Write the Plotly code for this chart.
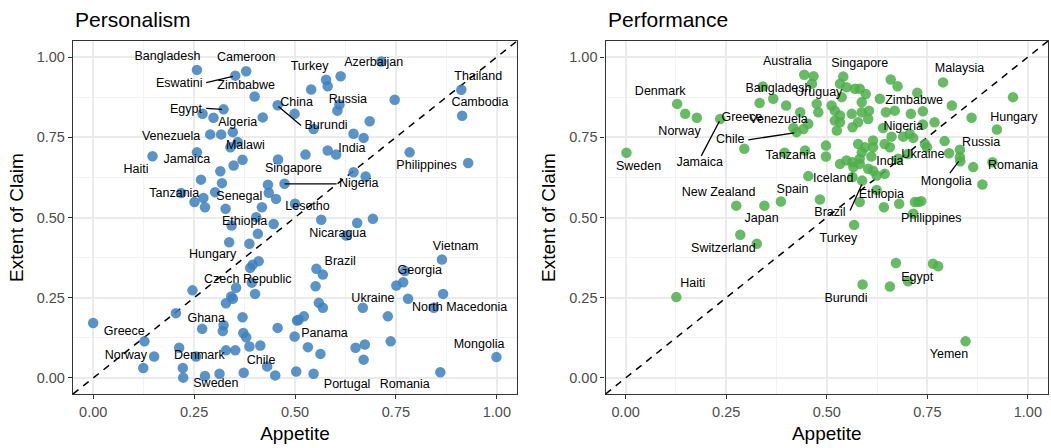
import plotly.graph_objects as go

# ---------------- data: Personalism panel ----------------
pers_x = [0.257, 0.379, 0.352, 0.400, 0.323, 0.271, 0.298, 0.457, 0.420, 0.290,
          0.317, 0.346, 0.358, 0.340, 0.257, 0.147, 0.370, 0.348, 0.458, 0.315,
          0.267, 0.319, 0.433, 0.474, 0.218, 0.251, 0.273, 0.277, 0.302, 0.328,
          0.435, 0.453, 0.418, 0.404, 0.500, 0.714, 0.577, 0.613, 0.581, 0.540,
          0.610, 0.605, 0.747, 0.912, 0.914, 0.499, 0.546, 0.685, 0.645, 0.670,
          0.581, 0.602, 0.526, 0.784, 0.929, 0.645, 0.675, 0.343, 0.447, 0.408,
          0.337, 0.387, 0.410, 0.395, 0.389, 0.393, 0.354, 0.401, 0.342, 0.346,
          0.329, 0.246, 0.205, 0.000, 0.323, 0.321, 0.270, 0.370, 0.457, 0.499,
          0.372, 0.379, 0.505, 0.127, 0.151, 0.124, 0.213, 0.255, 0.222, 0.223,
          0.329, 0.352, 0.387, 0.414, 0.431, 0.451, 0.503, 0.277, 0.313, 0.373,
          0.565, 0.654, 0.693, 0.627, 0.864, 0.553, 0.569, 0.551, 0.772, 0.768,
          0.751, 0.780, 0.867, 0.844, 0.559, 0.569, 0.668, 0.730, 0.522, 0.509,
          0.532, 0.563, 0.650, 0.673, 0.670, 0.737, 0.999, 0.546, 0.860]
pers_y = [0.960, 0.956, 0.942, 0.877, 0.837, 0.823, 0.811, 0.850, 0.812, 0.759,
          0.759, 0.766, 0.735, 0.719, 0.703, 0.691, 0.680, 0.662, 0.681, 0.644,
          0.618, 0.607, 0.602, 0.605, 0.576, 0.548, 0.561, 0.532, 0.579, 0.527,
          0.577, 0.558, 0.532, 0.501, 0.543, 0.986, 0.929, 0.940, 0.909, 0.899,
          0.852, 0.833, 0.867, 0.898, 0.817, 0.823, 0.776, 0.800, 0.761, 0.748,
          0.709, 0.696, 0.696, 0.703, 0.670, 0.641, 0.628, 0.475, 0.480, 0.449,
          0.423, 0.418, 0.364, 0.353, 0.343, 0.297, 0.281, 0.262, 0.254, 0.247,
          0.233, 0.273, 0.202, 0.171, 0.164, 0.146, 0.153, 0.189, 0.156, 0.129,
          0.140, 0.127, 0.179, 0.114, 0.067, 0.031, 0.094, 0.067, 0.031, 0.001,
          0.086, 0.086, 0.098, 0.101, 0.036, 0.008, 0.020, 0.006, 0.013, 0.016,
          0.493, 0.483, 0.496, 0.444, 0.369, 0.340, 0.322, 0.286, 0.333, 0.298,
          0.288, 0.247, 0.262, 0.219, 0.234, 0.219, 0.219, 0.192, 0.192, 0.181,
          0.096, 0.075, 0.094, 0.104, 0.057, 0.114, 0.065, 0.013, 0.018]

pers_labels = ["Bangladesh", "Cameroon", "Eswatini", "Zimbabwe", "Egypt", "Algeria",
               "China", "Burundi", "Venezuela", "Malawi", "Haiti", "Jamaica",
               "Singapore", "Nigeria", "Tanzania", "Senegal", "Lesotho", "Philippines",
               "Thailand", "Cambodia", "Turkey", "Azerbaijan", "Russia", "India",
               "Ethiopia", "Hungary", "Czech Republic", "Ghana", "Greece", "Norway",
               "Denmark", "Chile", "Sweden", "Nicaragua", "Brazil", "Georgia",
               "Vietnam", "Ukraine", "North Macedonia", "Panama", "Mongolia",
               "Portugal", "Romania"]
pers_label_x = [0.184, 0.379, 0.213, 0.379, 0.230, 0.358, 0.504, 0.577, 0.193, 0.377,
                0.106, 0.232, 0.496, 0.658, 0.201, 0.362, 0.531, 0.826, 0.954, 0.958,
                0.536, 0.695, 0.631, 0.641, 0.375, 0.296, 0.383, 0.280, 0.077, 0.081,
                0.263, 0.416, 0.304, 0.606, 0.612, 0.809, 0.898, 0.693, 0.908, 0.573,
                0.956, 0.629, 0.772]
pers_label_y = [0.999, 0.998, 0.917, 0.911, 0.836, 0.795, 0.856, 0.784, 0.750, 0.722,
                0.649, 0.680, 0.652, 0.605, 0.574, 0.565, 0.532, 0.660, 0.939, 0.857,
                0.968, 0.982, 0.867, 0.714, 0.485, 0.382, 0.307, 0.184, 0.145, 0.068,
                0.068, 0.052, -0.020, 0.449, 0.361, 0.335, 0.408, 0.245, 0.218, 0.136,
                0.104, -0.021, -0.021]
# leader segments (x0, y0, x1, y1)
pers_segments = [(0.280, 0.920, 0.346, 0.940),
                 (0.280, 0.840, 0.319, 0.837),
                 (0.459, 0.846, 0.515, 0.787),
                 (0.474, 0.605, 0.603, 0.605)]

# ---------------- data: Performance panel ----------------
perf_x = [0.444, 0.467, 0.463, 0.341, 0.367, 0.333, 0.399, 0.128, 0.148, 0.177,
          0.235, 0.295, 0.002, 0.417, 0.425, 0.442, 0.454, 0.434, 0.475, 0.479,
          0.395, 0.446, 0.454, 0.275, 0.345, 0.386, 0.483, 0.285, 0.326, 0.126,
          0.789, 0.541, 0.659, 0.676, 0.533, 0.549, 0.570, 0.582, 0.597, 0.537,
          0.632, 0.725, 0.811, 0.860, 0.963, 0.923, 0.512, 0.520, 0.533, 0.562,
          0.587, 0.587, 0.605, 0.603, 0.578, 0.564, 0.520, 0.533, 0.525, 0.647,
          0.669, 0.709, 0.739, 0.640, 0.661, 0.690, 0.706, 0.715, 0.739, 0.768,
          0.793, 0.744, 0.749, 0.578, 0.595, 0.615, 0.615, 0.644, 0.657, 0.498,
          0.498, 0.587, 0.611, 0.582, 0.831, 0.804, 0.831, 0.832, 0.864, 0.887,
          0.912, 0.702, 0.677, 0.533, 0.549, 0.564, 0.566, 0.582, 0.603, 0.615,
          0.644, 0.624, 0.564, 0.588, 0.624, 0.582, 0.642, 0.680, 0.719, 0.727,
          0.735, 0.715, 0.568, 0.672, 0.764, 0.777, 0.702, 0.657, 0.589, 0.845]
perf_y = [0.945, 0.940, 0.917, 0.908, 0.870, 0.857, 0.849, 0.854, 0.823, 0.811,
          0.807, 0.714, 0.702, 0.779, 0.766, 0.776, 0.792, 0.828, 0.854, 0.828,
          0.702, 0.709, 0.629, 0.537, 0.537, 0.550, 0.556, 0.446, 0.418, 0.252,
          0.921, 0.939, 0.930, 0.909, 0.917, 0.906, 0.901, 0.901, 0.885, 0.875,
          0.870, 0.889, 0.849, 0.811, 0.875, 0.774, 0.849, 0.833, 0.818, 0.823,
          0.859, 0.828, 0.833, 0.807, 0.797, 0.781, 0.802, 0.797, 0.771, 0.828,
          0.833, 0.823, 0.831, 0.779, 0.752, 0.752, 0.761, 0.748, 0.790, 0.797,
          0.738, 0.729, 0.719, 0.729, 0.719, 0.740, 0.719, 0.729, 0.719, 0.724,
          0.690, 0.703, 0.690, 0.683, 0.711, 0.700, 0.688, 0.675, 0.657, 0.603,
          0.672, 0.698, 0.683, 0.667, 0.678, 0.672, 0.657, 0.667, 0.652, 0.646,
          0.636, 0.631, 0.626, 0.615, 0.586, 0.548, 0.532, 0.543, 0.548, 0.548,
          0.551, 0.512, 0.477, 0.358, 0.356, 0.348, 0.301, 0.285, 0.291, 0.114]

perf_labels = ["Australia", "Singapore", "Malaysia", "Bangladesh", "Uruguay", "Denmark",
               "Norway", "Greece", "Venezuela", "Chile", "Jamaica", "Sweden", "Tanzania",
               "Zimbabwe", "Hungary", "Nigeria", "Russia", "Ukraine", "India", "Romania",
               "Mongolia", "Iceland", "Ethiopia", "Brazil", "Philippines", "New Zealand",
               "Spain", "Japan", "Switzerland", "Turkey", "Haiti", "Egypt", "Burundi",
               "Yemen"]
perf_label_x = [0.402, 0.582, 0.830, 0.380, 0.480, 0.086, 0.134, 0.289, 0.380, 0.260,
                0.184, 0.032, 0.410, 0.717, 0.965, 0.690, 0.884, 0.739, 0.657, 0.963,
                0.797, 0.516, 0.636, 0.508, 0.760, 0.231, 0.415, 0.338, 0.243, 0.529,
                0.167, 0.725, 0.548, 0.804]
perf_label_y = [0.984, 0.979, 0.963, 0.901, 0.889, 0.893, 0.766, 0.811, 0.805, 0.742,
                0.669, 0.657, 0.691, 0.864, 0.811, 0.781, 0.731, 0.695, 0.672, 0.662,
                0.610, 0.621, 0.569, 0.513, 0.497, 0.576, 0.586, 0.496, 0.402, 0.434,
                0.293, 0.311, 0.247, 0.072]
perf_segments = [(0.188, 0.692, 0.233, 0.800),
                 (0.305, 0.742, 0.419, 0.764),
                 (0.806, 0.638, 0.828, 0.675),
                 (0.558, 0.522, 0.587, 0.603)]

titles = ["Personalism", "Performance"]
x_title = "Appetite"
y_title = "Extent of Claim"
tick_vals = [0.0, 0.25, 0.5, 0.75, 1.0]

BLUE = "rgba(60,128,190,0.85)"
GREEN = "rgba(77,175,74,0.85)"
FONT = "Liberation Sans, Arial, sans-serif"

fig = go.Figure()


def seg_xy(segs):
    xs, ys = [], []
    for x0, y0, x1, y1 in segs:
        xs += [x0, x1, None]
        ys += [y0, y1, None]
    return xs, ys


panels = [
    ("x", "y", pers_x, pers_y, BLUE, pers_labels, pers_label_x, pers_label_y, pers_segments),
    ("x2", "y2", perf_x, perf_y, GREEN, perf_labels, perf_label_x, perf_label_y, perf_segments),
]
for xa, ya, px, py, col, labs, lx, ly, segs in panels:
    fig.add_trace(go.Scatter(x=[-0.05, 1.05], y=[-0.05, 1.05], mode="lines",
                             line=dict(color="black", width=1.5, dash="7px,6px"),
                             xaxis=xa, yaxis=ya, hoverinfo="skip", showlegend=False))
    fig.add_trace(go.Scatter(x=px, y=py, mode="markers",
                             marker=dict(color=col, size=10.5, line=dict(width=0)),
                             xaxis=xa, yaxis=ya, showlegend=False))
    sx, sy = seg_xy(segs)
    fig.add_trace(go.Scatter(x=sx, y=sy, mode="lines",
                             line=dict(color="black", width=1.3),
                             xaxis=xa, yaxis=ya, hoverinfo="skip", showlegend=False))
    fig.add_trace(go.Scatter(x=lx, y=ly, mode="text", text=labs,
                             textposition="middle center",
                             textfont=dict(family=FONT, size=12.5, color="black"),
                             cliponaxis=False,
                             xaxis=xa, yaxis=ya, hoverinfo="skip", showlegend=False))

axis_common = dict(
    range=[-0.05, 1.05], tickvals=tick_vals, tickformat=".2f",
    showgrid=True, gridcolor="#EBEBEB", gridwidth=1.6,
    minor=dict(tickmode="linear", tick0=0.125, dtick=0.25, showgrid=True,
               gridcolor="#F3F3F3", gridwidth=0.8, ticks=""),
    zeroline=False, showline=True, mirror=True, linecolor="#333333", linewidth=1.3,
    ticks="outside", ticklen=4, tickwidth=1.1, tickcolor="#333333",
    tickfont=dict(family=FONT, size=14.5, color="#4D4D4D"),
    fixedrange=True,
)

fig.update_layout(
    width=1051, height=448,
    margin=dict(l=73, r=3, t=41, b=54),
    paper_bgcolor="white", plot_bgcolor="white",
    font=dict(family=FONT, color="black"),
    xaxis=dict(domain=[0.0, 0.4554], anchor="y",
               title=dict(text=x_title, font=dict(size=19), standoff=8), **axis_common),
    yaxis=dict(domain=[0, 1], anchor="x",
               title=dict(text=y_title, font=dict(size=19), standoff=8), **axis_common),
    xaxis2=dict(domain=[0.5462, 1.0], anchor="y2",
                title=dict(text=x_title, font=dict(size=19), standoff=8), **axis_common),
    yaxis2=dict(domain=[0, 1], anchor="x2",
                title=dict(text=y_title, font=dict(size=19), standoff=8), **axis_common),
)

for i, t in enumerate(titles):
    xr = "x domain" if i == 0 else "x2 domain"
    fig.add_annotation(text=t, xref=xr, yref="paper", x=0, y=1, xanchor="left",
                       yanchor="bottom", yshift=8, showarrow=False,
                       font=dict(family=FONT, size=21, color="black"))

fig.write_html("out.html",
               config={"displayModeBar": False},
               post_script="document.body.style.margin='0';"
                           "document.body.style.overflow='hidden';")
